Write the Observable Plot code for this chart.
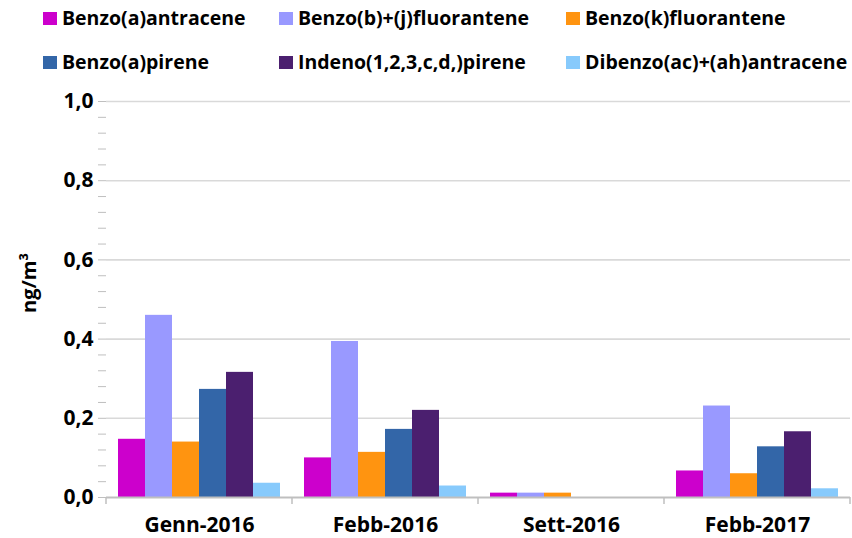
<!DOCTYPE html>
<html>
<head>
<meta charset="utf-8">
<script src="https://cdn.jsdelivr.net/npm/d3@7"></script>
<script src="https://cdn.jsdelivr.net/npm/@observablehq/plot@0.6"></script>
<style>
  html, body { margin: 0; padding: 0; background: #fff; }
  #wrap { position: relative; width: 852px; height: 538px; overflow: hidden; font-family: "Open Sans", Lato, sans-serif; }
  #legend { position: relative; height: 90px; }
  .item { position: absolute; display: flex; align-items: center; height: 22px; line-height: 22px; font-weight: bold; font-size: 19.5px; color: #000; white-space: nowrap; }
  .sw { width: 14px; height: 13px; margin-right: 5px; flex: none; }
  #ylabel { position: absolute; left: 28px; top: 283px; transform: translate(-50%, -50%) rotate(-90deg); font-weight: bold; font-size: 20px; white-space: nowrap; color: #000; }
</style>
</head>
<body>
<div id="wrap">
  <div id="legend"></div>
  <div id="chart"></div>
  <div id="ylabel">ng/m³</div>
</div>
<script>
const categories = ["Genn-2016", "Febb-2016", "Sett-2016", "Febb-2017"];
const series = ["Benzo(a)antracene", "Benzo(b)+(j)fluorantene", "Benzo(k)fluorantene",
                "Benzo(a)pirene", "Indeno(1,2,3,c,d,)pirene", "Dibenzo(ac)+(ah)antracene"];
const colors = ["#cc00cc", "#9999ff", "#ff9410", "#3366a8", "#4b1f6f", "#87cafc"];

const benzoAAntracene   = [0.147, 0.100, 0.011, 0.067];
const benzoBJFluor      = [0.460, 0.394, 0.011, 0.231];
const benzoKFluor       = [0.140, 0.114, 0.011, 0.060];
const benzoAPirene      = [0.273, 0.172, 0.000, 0.128];
const indenoPirene      = [0.316, 0.220, 0.000, 0.166];
const dibenzoAntracene  = [0.036, 0.029, 0.000, 0.022];

const yMajorTicks = [0, 0.2, 0.4, 0.6, 0.8, 1.0];
const yMinorTicks = [0.04,0.08,0.12,0.16,0.24,0.28,0.32,0.36,0.44,0.48,0.52,0.56,0.64,0.68,0.72,0.76,0.84,0.88,0.92,0.96];

const valuesBySeries = [benzoAAntracene, benzoBJFluor, benzoKFluor, benzoAPirene, indenoPirene, dibenzoAntracene];
const data = [];
categories.forEach((c, ci) => series.forEach((s, si) => data.push({cat: c, series: s, value: valuesBySeries[si][ci]})));

// legend
const legendPos = [[43, 18], [279, 18], [566, 18], [43, 62], [279, 62], [566, 62]];
const legend = document.getElementById("legend");
series.forEach((s, i) => {
  const d = document.createElement("div");
  d.className = "item";
  d.style.left = legendPos[i][0] + "px";
  d.style.top = (legendPos[i][1] - 11) + "px";
  d.innerHTML = `<span class="sw" style="background:${colors[i]}"></span><span>${s}</span>`;
  legend.appendChild(d);
});

const fmt = d => d.toFixed(1).replace(".", ",");

const plot = Plot.plot({
  width: 852,
  height: 448,
  marginTop: 11,
  marginBottom: 41,
  marginLeft: 105,
  marginRight: 2,
  style: { fontFamily: "'Open Sans', Lato, sans-serif", fontSize: "21px", fontWeight: "bold", color: "#000", background: "#fff", overflow: "visible" },
  fx: { domain: categories, paddingInner: 0, paddingOuter: 0, label: null },
  x: { domain: series, paddingInner: 0, paddingOuter: 0.44, axis: null },
  y: { domain: [0, 1], axis: null },
  color: { domain: series, range: colors },
  marks: [
    Plot.gridY(yMajorTicks.slice(1), { stroke: "#d9d9d9", strokeOpacity: 1, strokeWidth: 1.6 }),
    Plot.barY(data, { fx: "cat", x: "series", y: "value", fill: "series" }),
    Plot.ruleY([0], { stroke: "#bfbfbf", strokeWidth: 2 }),
    Plot.axisY({ ticks: yMinorTicks, tickFormat: () => "", tickSize: 8, stroke: "#bfbfbf", label: null }),
    Plot.axisY({ ticks: yMajorTicks, tickFormat: fmt, tickSize: 8, tickPadding: 5, stroke: "#bfbfbf", fill: "#000", line: true, label: null }),
    Plot.axisFx({ anchor: "bottom", tickSize: 0, tickPadding: 20, label: null, fill: "#000" })
  ]
});
document.getElementById("chart").appendChild(plot);

// category separator ticks from the fx scale
const fx = plot.scale("fx");
const yS = plot.scale("y");
const svg = d3.select(plot);
const y0 = yS.apply(0);
const bounds = categories.map(c => fx.apply(c)).concat([fx.apply(categories[categories.length - 1]) + fx.bandwidth]);
svg.append("g").selectAll("line").data(bounds).join("line")
  .attr("x1", d => d).attr("x2", d => d)
  .attr("y1", y0).attr("y2", y0 + 7)
  .attr("stroke", "#bfbfbf").attr("stroke-width", 1.5);
</script>
</body>
</html>
